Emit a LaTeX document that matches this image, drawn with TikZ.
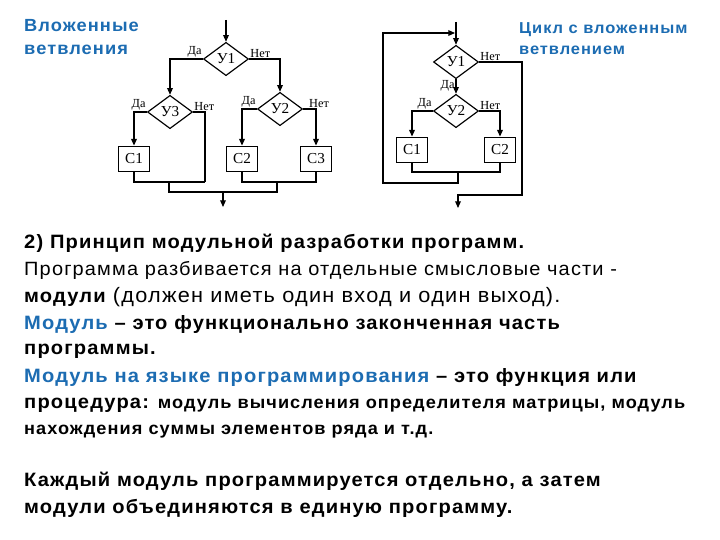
\documentclass[tikz,border=0pt]{standalone}
\usepackage{fontspec}
\setmainfont[FakeStretch=1.04, LetterSpace=6]{Liberation Sans}
\newfontfamily\diafont{Liberation Serif}
\usetikzlibrary{shapes.geometric,arrows.meta}
\definecolor{titleblue}{RGB}{28,108,178}
\tikzset{
	usl/.style={draw, diamond, line width=1pt, minimum width=1.35cm, minimum height=1.0cm, inner sep=0pt, font=\diafont\fontsize{13}{13}\selectfont},
	blok/.style={draw, rectangle, line width=1pt, minimum width=0.92cm, minimum height=0.77cm, inner sep=0pt, font=\diafont\fontsize{13}{13}\selectfont},
	lbl/.style={inner sep=1pt, font=\diafont\fontsize{10.5}{10.5}\selectfont},
	ln/.style={line width=1pt},
	arr/.style={line width=1pt, -{Triangle[length=2mm,width=1.7mm]}},
	txt/.style={anchor=west, inner sep=0pt, align=left},
	ttl/.style={anchor=north west, inner sep=0pt, align=left, text=titleblue, font=\bfseries\fontsize{15}{19.5}\selectfont}
}
\begin{document}
\begin{tikzpicture}[x=0.03cm, y=-0.03cm]
			%%%%% START %%%%%
			\useasboundingbox (0,0) rectangle (720,540);
			
			\node[ttl] (ttl1) at (24,19) {Вложенные\\ветвления};
			\node[ttl, font=\bfseries\fontsize{13.5}{17.9}\selectfont] (ttl2) at (519,22) {Цикл с вложенным\\ветвлением};
			
			% nested branching
			\coordinate (in1) at (226,20);
			\node[usl] (y1) at (226,59) {У1};
			\node[usl] (y3) at (170,112) {У3};
			\node[usl] (y2) at (280,109) {У2};
			\node[blok] (c1) at (134,159) {С1};
			\node[blok] (c2) at (242,159) {С2};
			\node[blok] (c3) at (316,159) {С3};
			\node[lbl, above left] (da1) at (y1.west) {Да};
			\node[lbl, above right] (net1) at (y1.east) {Нет};
			\node[lbl, above left] (da3) at (y3.west) {Да};
			\node[lbl, above right] (net3) at (y3.east) {Нет};
			\node[lbl, above left] (da2) at (y2.west) {Да};
			\node[lbl, above right, xshift=4pt] (net2) at (y2.east) {Нет};
			
			\draw[arr] (in1) -- (y1);
			\draw[arr] (y1.west) -| (y3.north);
			\draw[arr] (y1.east) -| (y2.north);
			\draw[arr] (y3.west) -| (c1.north);
			\draw[arr] (y2.west) -| (c2.north);
			\draw[arr] (y2.east) -| (c3.north);
			
			\coordinate (j1) at (205,182);
			\coordinate (m1) at (169,182);
			\coordinate (j2) at (316,182);
			\coordinate (m2) at (277,182);
			\coordinate (b1) at (169,192);
			\coordinate (b2) at (277,192);
			\coordinate (out1) at (223,192);
			\coordinate (end1) at (223,207);
			\draw[ln] (y3.east) -| (j1);
			\draw[ln] (c1.south) |- (j1);
			\draw[ln] (c2.south) |- (j2) -- (c3.south);
			\draw[ln] (m1) -- (b1) -- (b2) -- (m2);
			\draw[arr] (out1) -- (end1);
			
			% loop with nested branching
			\coordinate (in2) at (456,22);
			\node[usl] (z1) at (456,62) {У1};
			\node[usl] (z2) at (456,111) {У2};
			\node[blok] (d1) at (412,150) {С1};
			\node[blok] (d2) at (500,150) {С2};
			\node[lbl, above right] (net4) at (z1.east) {Нет};
			\node[lbl, below left] (da4) at (z1.south) {Да};
			\node[lbl, above left] (da5) at (z2.west) {Да};
			\node[lbl, above right] (net5) at (z2.east) {Нет};
			
			\draw[arr] (in2) -- (z1);
			\draw[arr] (z1) -- (z2);
			\draw[arr] (z2.west) -| (d1.north);
			\draw[arr] (z2.east) -| (d2.north);
			
			\coordinate (j3) at (412,172);
			\coordinate (j4) at (500,172);
			\coordinate (m3) at (458,172);
			\coordinate (b3) at (458,183);
			\coordinate (b4) at (383,183);
			\coordinate (t4) at (383,33);
			\coordinate (t5) at (455,33);
			\coordinate (k1) at (522,195);
			\coordinate (k2) at (458,195);
			\coordinate (end2) at (458,208);
			\draw[ln] (d1.south) -- (j3) -- (j4) -- (d2.south);
			\draw[arr] (m3) -- (b3) -- (b4) -- (t4) -- (t5);
			\draw[arr] (z1.east) -| (k1) -- (k2) -- (end2);
			
			% text
			\node[txt, font=\bfseries\fontsize{16.5}{23}\selectfont] (l1) at (24,243) {2) Принцип модульной разработки программ.};
			\node[txt, font=\fontsize{16.4}{23}\selectfont] (l2) at (24,270) {Программа разбивается на отдельные смысловые части -};
			\node[txt, font=\fontsize{17.8}{23}\selectfont] (l3) at (24,297) {{\bfseries\fontsize{16.5}{23}\selectfont модули} (должен иметь один вход и один выход).};
			\node[txt, font=\bfseries\fontsize{16.5}{23}\selectfont] (l4) at (24,325) {\textcolor{titleblue}{Модуль} -- это функционально законченная часть};
			\node[txt, font=\bfseries\fontsize{16.5}{23}\selectfont] (l5) at (24,351) {программы.};
			\node[txt, font=\bfseries\fontsize{16.5}{23}\selectfont] (l6) at (24,378) {\textcolor{titleblue}{Модуль на языке программирования} -- это функция или};
			\node[txt, font=\bfseries\fontsize{16.5}{23}\selectfont] (l7) at (24,405) {процедура: {\fontsize{14.9}{20}\selectfont модуль вычисления определителя матрицы, модуль}};
			\node[txt, font=\bfseries\fontsize{14.9}{20}\selectfont] (l8) at (24,432) {нахождения суммы элементов ряда и т.д.};
			\node[txt, font=\bfseries\fontsize{16.5}{23}\selectfont] (l9) at (24,481) {Каждый модуль программируется отдельно, а затем};
			\node[txt, font=\bfseries\fontsize{16.5}{23}\selectfont] (l10) at (24,508) {модули объединяются в единую программу.};
			
			%%%%% END %%%%%
\end{tikzpicture}
\end{document}
